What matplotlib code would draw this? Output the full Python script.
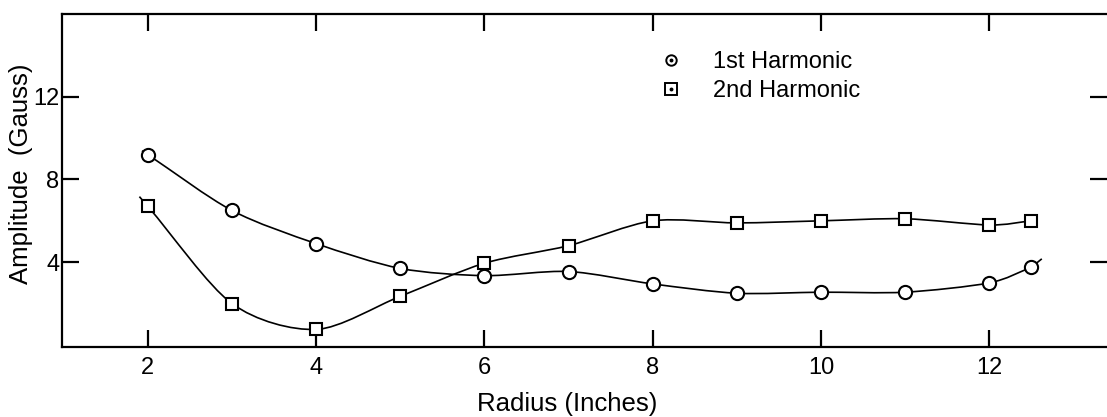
import matplotlib
matplotlib.use("Agg")
from matplotlib import pyplot as plt
from matplotlib.path import Path
from matplotlib.patches import PathPatch
from matplotlib.lines import Line2D
from matplotlib.legend_handler import HandlerTuple

radius = [2, 3, 4, 5, 6, 7, 8, 9, 10, 11, 12, 12.5]
first_harm = [9.2, 6.5, 4.9, 3.7, 3.35, 3.55, 2.95, 2.5, 2.55, 2.55, 3.0, 3.75]
second_harm = [6.7, 2.0, 0.75, 2.35, 3.95, 4.8, 6.0, 5.9, 6.0, 6.1, 5.8, 6.0]

x_ticks = [2, 4, 6, 8, 10, 12]
y_ticks = [4, 8, 12]

plt.rcParams['font.family'] = ['Liberation Sans', 'DejaVu Sans']


def smooth_path(xs, ys, head=0.0, tail=0.0, k=7.0):
    # Catmull-Rom through the points, drawn as cubic Bezier segments
    pts = list(zip(xs, ys))
    n = len(pts)
    ext = [(2 * pts[0][0] - pts[1][0], 2 * pts[0][1] - pts[1][1])] + pts + \
          [(2 * pts[-1][0] - pts[-2][0], 2 * pts[-1][1] - pts[-2][1])]
    verts, codes = [], []
    if head:
        dx, dy = pts[1][0] - pts[0][0], pts[1][1] - pts[0][1]
        verts.append((pts[0][0] - head * dx, pts[0][1] - head * dy))
        codes.append(Path.MOVETO)
        verts.append(pts[0])
        codes.append(Path.LINETO)
    else:
        verts.append(pts[0])
        codes.append(Path.MOVETO)
    for i in range(n - 1):
        p0, p1, p2, p3 = ext[i], ext[i + 1], ext[i + 2], ext[i + 3]
        c1 = (p1[0] + (p2[0] - p0[0]) / k, p1[1] + (p2[1] - p0[1]) / k)
        c2 = (p2[0] - (p3[0] - p1[0]) / k, p2[1] - (p3[1] - p1[1]) / k)
        verts += [c1, c2, p2]
        codes += [Path.CURVE4] * 3
    if tail:
        dx, dy = pts[-1][0] - pts[-2][0], pts[-1][1] - pts[-2][1]
        verts.append((pts[-1][0] + tail * dx, pts[-1][1] + tail * dy * 2.2))
        codes.append(Path.LINETO)
    return Path(verts, codes)


fig = plt.figure(figsize=(11.07, 4.17), dpi=100)
ax = fig.add_axes([62 / 1107, 70 / 417, 1045 / 1107, 333 / 417])

ax.add_patch(PathPatch(smooth_path(radius, first_harm, head=0.07, tail=0.25),
                       fill=False, lw=1.2, color='black'))
ax.add_patch(PathPatch(smooth_path(radius, second_harm, head=0.1),
                       fill=False, lw=1.2, color='black'))

ax.plot(radius, first_harm, linestyle='none', marker='o', markersize=9.5,
        markerfacecolor='white', markeredgecolor='black', markeredgewidth=1.5, zorder=3)
ax.plot(radius, second_harm, linestyle='none', marker='s', markersize=8.5,
        markerfacecolor='white', markeredgecolor='black', markeredgewidth=1.5, zorder=3)

ax.set_xlim(0.98, 13.4)
ax.set_ylim(-0.1, 16)
ax.set_xticks(x_ticks)
ax.set_yticks(y_ticks)
ax.tick_params(axis='both', direction='in', length=12, width=1.6,
               labelsize=17, top=True, right=True)
ax.tick_params(axis='x', pad=7)
ax.tick_params(axis='y', pad=2)
for side in ['left', 'bottom', 'top']:
    ax.spines[side].set_linewidth(1.6)
ax.spines['right'].set_visible(False)

ax.set_xlabel('Radius (Inches)', fontsize=18.5)
ax.xaxis.set_label_coords((567 - 62) / 1045, -0.135)
ax.set_ylabel('Amplitude  (Gauss)', fontsize=18.5)
ax.yaxis.set_label_coords(-0.028, 0.52)

h1 = (Line2D([], [], linestyle='none', marker='o', markersize=7.5,
             markerfacecolor='white', markeredgecolor='black', markeredgewidth=1.4),
      Line2D([], [], linestyle='none', marker='o', markersize=1.8, color='black'))
h2 = (Line2D([], [], linestyle='none', marker='s', markersize=8,
             markerfacecolor='white', markeredgecolor='black', markeredgewidth=1.4),
      Line2D([], [], linestyle='none', marker='o', markersize=1.8, color='black'))
ax.legend([h1, h2], ['1st Harmonic', '2nd Harmonic'],
          handler_map={tuple: HandlerTuple(ndivide=1)},
          loc='upper left', bbox_to_anchor=(0.56, 0.925), frameon=False,
          fontsize=17, handlelength=1.0, handletextpad=1.3,
          labelspacing=0.3, borderpad=0)

fig.savefig('out.png', dpi=100)
